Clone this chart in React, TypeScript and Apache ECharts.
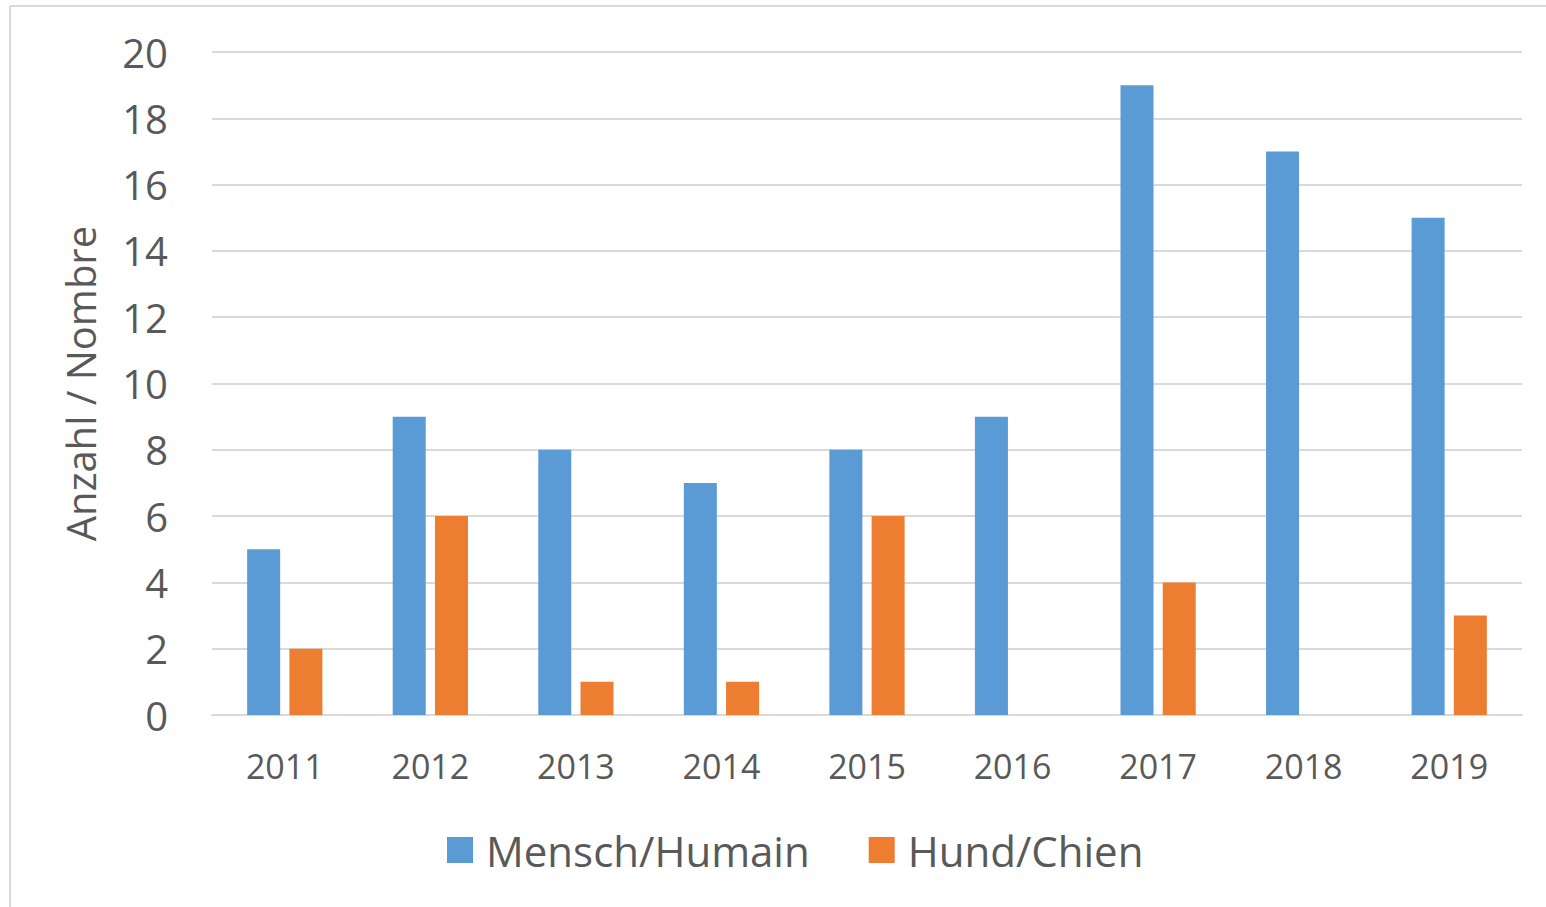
import React, { useEffect, useRef } from "react";
import * as echarts from "echarts";

const years = ["2011", "2012", "2013", "2014", "2015", "2016", "2017", "2018", "2019"];
const mensch = [5, 9, 8, 7, 8, 9, 19, 17, 15];
const hund = [2, 6, 1, 1, 6, 0, 4, 0, 3];
const seriesNames = ["Mensch/Humain", "Hund/Chien"];
const yAxisName = "Anzahl / Nombre";

const FONT = "'Open Sans', sans-serif";
const TEXT = "#595959";

export default function App() {
  const ref = useRef<HTMLDivElement>(null);
  useEffect(() => {
    if (!ref.current) return;
    const chart = echarts.init(ref.current, undefined, { renderer: "svg" });
    chart.setOption({
      animation: false,
      backgroundColor: "#ffffff",
      grid: { left: 212, right: 24, top: 52, bottom: 192, containLabel: false },
      legend: {
        left: 442,
        top: 824,
        itemWidth: 26,
        itemHeight: 26,
        itemGap: 59,
        icon: "rect",
        textStyle: { fontFamily: FONT, fontSize: 42, color: TEXT, padding: [0, 0, 0, 8] },
        data: seriesNames,
      },
      xAxis: {
        type: "category",
        data: years,
        axisLine: { show: true, lineStyle: { color: "#D9D9D9", width: 2 } },
        axisTick: { show: false },
        axisLabel: { fontFamily: FONT, fontSize: 34, color: TEXT, margin: 34 },
      },
      yAxis: {
        type: "value",
        min: 0,
        max: 20,
        interval: 2,
        name: yAxisName,
        nameLocation: "middle",
        nameRotate: 90,
        nameGap: 112,
        nameTextStyle: { fontFamily: FONT, fontSize: 40, color: TEXT },
        axisLine: { show: false },
        axisTick: { show: false },
        splitLine: { lineStyle: { color: "#D9D9D9", width: 2 } },
        axisLabel: { fontFamily: FONT, fontSize: 40, color: TEXT, margin: 44 },
      },
      series: [
        {
          name: seriesNames[0],
          type: "bar",
          data: mensch,
          barWidth: 33,
          barGap: "28%",
          itemStyle: { color: "#5B9BD5" },
        },
        {
          name: seriesNames[1],
          type: "bar",
          data: hund,
          barWidth: 33,
          barGap: "28%",
          itemStyle: { color: "#ED7D31" },
        },
      ],
      graphic: [
        { type: "line", shape: { x1: 10, y1: 6, x2: 10, y2: 907 }, style: { stroke: "#D9D9D9", lineWidth: 2 } },
        { type: "line", shape: { x1: 10, y1: 6, x2: 1546, y2: 6 }, style: { stroke: "#D9D9D9", lineWidth: 2 } },
      ],
    });
    return () => chart.dispose();
  }, []);
  return (
    <div
      ref={ref}
      style={{ position: "fixed", left: 0, top: 0, width: 1546, height: 907 }}
    />
  );
}
